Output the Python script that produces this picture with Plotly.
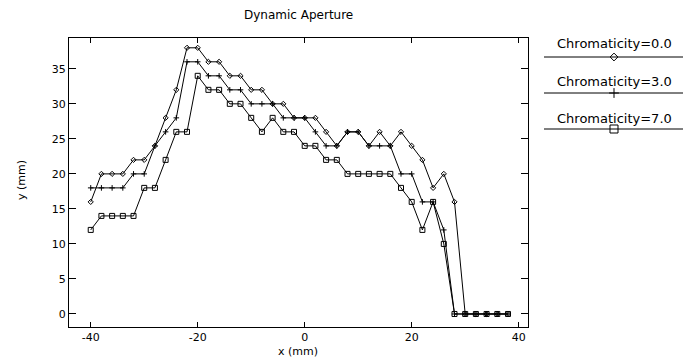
import plotly.graph_objects as go

W, H = 691, 360

x_mm = list(range(-40, 40, 2))
chrom_labels = ["Chromaticity=0.0", "Chromaticity=3.0", "Chromaticity=7.0"]
y_chrom0 = [16, 20, 20, 20, 22, 22, 24, 28, 32, 38, 38, 36, 36, 34, 34, 32, 32, 30, 30, 28,
            28, 28, 26, 24, 26, 26, 24, 26, 24, 26, 24, 22, 18, 20, 16, 0, 0, 0, 0, 0]
y_chrom3 = [18, 18, 18, 18, 20, 20, 24, 26, 28, 36, 36, 34, 34, 32, 32, 30, 30, 30, 28, 28,
            28, 26, 24, 24, 26, 26, 24, 24, 24, 20, 20, 16, 16, 12, 0, 0, 0, 0, 0, 0]
y_chrom7 = [12, 14, 14, 14, 14, 18, 18, 22, 26, 26, 34, 32, 32, 30, 30, 28, 26, 28, 26, 26,
            24, 24, 22, 22, 20, 20, 20, 20, 20, 18, 16, 12, 16, 10, 0, 0, 0, 0, 0, 0]
x_ticks = [-40, -20, 0, 20, 40]
x_tick_labels = ["-40", "-20", "0", "20", "40"]
y_ticks = [0, 5, 10, 15, 20, 25, 30, 35]

series = [y_chrom0, y_chrom3, y_chrom7]
symbols = ["diamond-open", "cross-thin-open", "square-open"]
sizes = [4, 4, 5]
leg_sizes = [6, 7, 8]

FONT = "DejaVu Sans"
fig = go.Figure()

for ys, sym, sz, name in zip(series, symbols, sizes, chrom_labels):
    fig.add_trace(go.Scatter(
        x=x_mm, y=ys, mode="lines+markers", name=name, showlegend=False,
        line=dict(color="black", width=1),
        marker=dict(symbol=sym, size=sz, color="black", line=dict(color="black", width=1)),
        xaxis="x", yaxis="y"))

# custom legend (pixel coordinates on an overlay axis)
leg_text_y = [43, 81, 118]
leg_line_y = [57, 93, 129]
for i, (name, sym, sz) in enumerate(zip(chrom_labels, symbols, leg_sizes)):
    fig.add_trace(go.Scatter(
        x=[544, 683], y=[leg_line_y[i], leg_line_y[i]], mode="lines",
        line=dict(color="black", width=1), showlegend=False, hoverinfo="skip",
        xaxis="x2", yaxis="y2"))
    fig.add_trace(go.Scatter(
        x=[614], y=[leg_line_y[i]], mode="markers", showlegend=False, hoverinfo="skip",
        marker=dict(symbol=sym, size=sz, color="black", line=dict(color="black", width=1)),
        xaxis="x2", yaxis="y2"))
    fig.add_annotation(x=614, y=leg_text_y[i], xref="x2", yref="y2", text=name,
                       showarrow=False, font=dict(family=FONT, size=13, color="black"),
                       xanchor="center", yanchor="middle")

L, R, T, B = 69, 528, 38, 327
fig.update_layout(
    width=W, height=H, margin=dict(l=0, r=0, t=0, b=0),
    paper_bgcolor="white", plot_bgcolor="rgba(0,0,0,0)",
    font=dict(family=FONT, size=11, color="black"),
    xaxis=dict(domain=[L / W, R / W], range=[-44.06, 41.74], tickvals=x_ticks,
               ticktext=x_tick_labels,
               ticks="inside", ticklen=5, tickcolor="black", showline=True, linecolor="black",
               linewidth=1, mirror="ticks", showgrid=False, zeroline=False,
               tickfont=dict(family=FONT, size=11), anchor="y", automargin=False),
    yaxis=dict(domain=[1 - B / H, 1 - T / H], range=[-1.86, 39.4], tickvals=y_ticks,
               ticks="inside", ticklen=7, tickcolor="black", showline=True, linecolor="black",
               linewidth=1, mirror="ticks", showgrid=False, zeroline=False,
               tickfont=dict(family=FONT, size=11), anchor="x", automargin=False),
    xaxis2=dict(domain=[0, 1], range=[0, W], visible=False, anchor="y2", fixedrange=True),
    yaxis2=dict(domain=[0, 1], range=[H, 0], visible=False, anchor="x2", fixedrange=True),
)

fig.add_annotation(x=298 / W, y=1 - 15 / H, xref="paper", yref="paper", text="Dynamic Aperture",
                   showarrow=False, font=dict(family=FONT, size=12), xanchor="center", yanchor="middle")
fig.add_annotation(x=298 / W, y=1 - 351 / H, xref="paper", yref="paper", text="x (mm)",
                   showarrow=False, font=dict(family=FONT, size=11), xanchor="center", yanchor="middle")
fig.add_annotation(x=21 / W, y=1 - 180 / H, xref="paper", yref="paper", text="y (mm)",
                   showarrow=False, textangle=-90, font=dict(family=FONT, size=11),
                   xanchor="center", yanchor="middle")

fig.write_html("out.html", config={"displayModeBar": False},
               post_script="document.body.style.margin='0';")
